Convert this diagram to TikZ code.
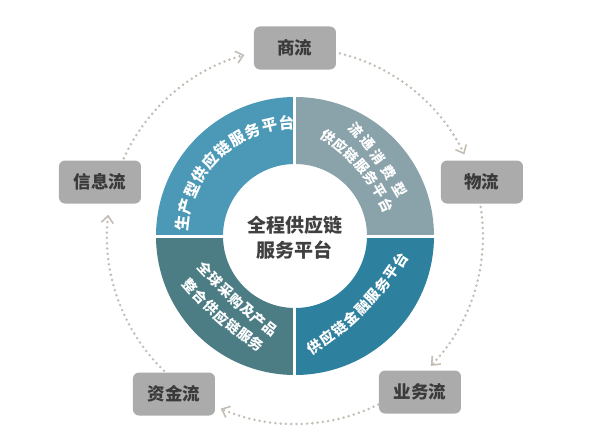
\documentclass[tikz,border=0pt]{standalone}
\usepackage{fontspec}
\newfontfamily\cjk{Noto Sans CJK SC}
\usetikzlibrary{arrows.meta}
\definecolor{qtl}{RGB}{75,153,182}
\definecolor{qtr}{RGB}{138,163,171}
\definecolor{qbl}{RGB}{76,125,133}
\definecolor{qbr}{RGB}{45,128,158}
\definecolor{boxgray}{RGB}{171,171,171}
\definecolor{boxtext}{RGB}{58,58,58}
\definecolor{centertext}{RGB}{64,64,64}
\definecolor{dotcol}{RGB}{196,189,180}
\begin{document}
\begin{tikzpicture}[x=1pt,y=1pt,
  flowbox/.style={fill=boxgray, rounded corners=6pt, minimum width=82pt, minimum height=43pt, inner sep=0pt, text=boxtext, font=\cjk\bfseries\fontsize{17.5}{17.5}\selectfont},
  flowarc/.style={draw=dotcol, line width=2.8pt, line cap=round, dash pattern=on 0pt off 5.3pt, -{Straight Barb[length=7pt,width=12pt,line width=1.6pt]}},
  ringchar/.style={text=white, inner sep=0pt, font=\cjk\bfseries\fontsize{14}{14}\selectfont},
  midchar/.style={text=white, inner sep=0pt, font=\cjk\bfseries\fontsize{14.5}{14.5}\selectfont},
  bigchar/.style={text=white, inner sep=0pt, font=\cjk\bfseries\fontsize{15.5}{15.5}\selectfont}
]
\useasboundingbox (-295,-209) rectangle (319,236);
\def\Ro{139}
\def\Ri{72}
% ring quadrants
\fill[qtl] (90:\Ri) -- (90:\Ro) arc[start angle=90,end angle=180,radius=\Ro] -- (180:\Ri) arc[start angle=180,end angle=90,radius=\Ri] -- cycle;
\fill[qtr] (0:\Ri) -- (0:\Ro) arc[start angle=0,end angle=90,radius=\Ro] -- (90:\Ri) arc[start angle=90,end angle=0,radius=\Ri] -- cycle;
\fill[qbl] (180:\Ri) -- (180:\Ro) arc[start angle=180,end angle=270,radius=\Ro] -- (270:\Ri) arc[start angle=270,end angle=180,radius=\Ri] -- cycle;
\fill[qbr] (270:\Ri) -- (270:\Ro) arc[start angle=270,end angle=360,radius=\Ro] -- (0:\Ri) arc[start angle=360,end angle=270,radius=\Ri] -- cycle;
\draw[white, line width=3pt] (-142,0) -- (142,0);
\draw[white, line width=3pt] (0,-142) -- (0,142);
% centre text
\node[font=\cjk\bfseries\fontsize{19}{25}\selectfont, text=centertext, align=center, inner sep=0pt] (centre) at (0,-1.5) {全程供应链\\服务平台};
% top-left curved text
\foreach \c [count=\i] in {生,产,型,供,应,链,服,务,平,台} {
  \pgfmathsetmacro\a{173.5-(\i-1)*8.81}
  \node[bigchar, rotate=\a-90] (tl\i) at (\a:113) {\c};
}
% top-right two lines
\path (61.7,106) .. controls (76.07,90.4) and (90.5,70.4) .. (105,46)
  foreach \p/\c/\i in {0/流/1,0.25/通/2,0.5/消/3,0.75/费/4,1/型/5} {node[ringchar, sloped, pos=\p] (tra\i) {\c}};
\path (33.3,99.3) .. controls (58.37,82.07) and (77.83,59.3) .. (91.7,31)
  foreach \p/\c/\i in {0/供/1,0.1667/应/2,0.3333/链/3,0.5/服/4,0.6667/务/5,0.8333/平/6,1/台/7} {node[ringchar, sloped, pos=\p] (trb\i) {\c}};
% bottom-right
\foreach \x/\y/\r/\c [count=\i] in {20/-110.7/33/供, 32.6/-102/36/应, 44.7/-92.6/39/链, 56.3/-82.6/42/金, 67.3/-72/45.5/融, 77.7/-60.8/48.6/服, 87.5/-49.1/51.8/务, 96.7/-36.8/55/平, 105.1/-24.1/58/台} {
  \node[midchar, rotate=\r] (br\i) at (\x,\y) {\c};
}
% bottom-left two lines
\path (-90,-33.3) .. controls (-69.4,-55.57) and (-47.73,-75.57) .. (-25,-93.3)
  foreach \p/\c/\i in {0/全/1,0.1667/球/2,0.3333/采/3,0.5/购/4,0.6667/及/5,0.8333/产/6,1/品/7} {node[ringchar, sloped, pos=\p] (bla\i) {\c}};
\path (-105,-50) .. controls (-84.97,-72.83) and (-62.73,-92.27) .. (-38.3,-108.3)
  foreach \p/\c/\i in {0/整/1,0.1667/合/2,0.3333/供/3,0.5/应/4,0.6667/链/5,0.8333/服/6,1/务/7} {node[ringchar, sloped, pos=\p] (blb\i) {\c}};
% flow boxes
\node[flowbox] (shang) at (0,188) {商流};
\node[flowbox] (wu) at (187,54) {物流};
\node[flowbox] (yewu) at (125,-156) {业务流};
\node[flowbox] (zijin) at (-121,-158) {资金流};
\node[flowbox] (xinxi) at (-195,54) {信息流};
% dotted circular arcs
\coordinate (f1) at (155.6:188);
\coordinate (f2) at (76.2:188);
\coordinate (f3) at (8.9:188);
\coordinate (f4) at (-63.7:188);
\coordinate (f5) at (225.8:188);
\draw[flowarc] (f1) arc[start angle=155.6, end angle=105.6, radius=188];
\draw[flowarc] (f2) arc[start angle=76.2, end angle=25.7, radius=188];
\draw[flowarc] (f3) arc[start angle=8.9, end angle=-43.7, radius=188];
\draw[flowarc] (f4) arc[start angle=-63.7, end angle=-113.3, radius=188];
\draw[flowarc] (f5) arc[start angle=225.8, end angle=173.5, radius=188];
\end{tikzpicture}
\end{document}
